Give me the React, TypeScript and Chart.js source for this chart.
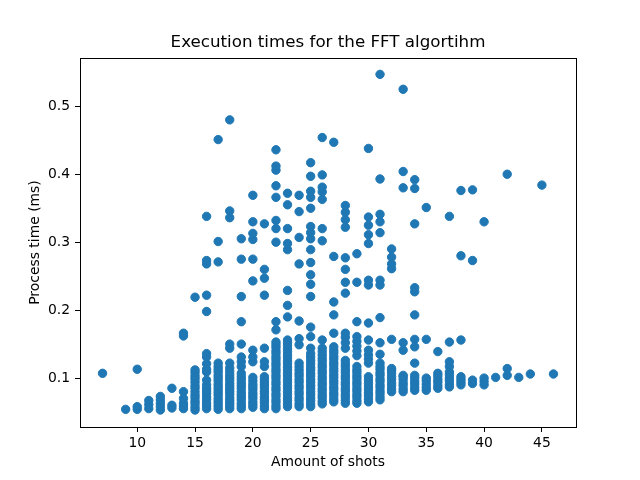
import { useEffect, useRef } from "react";
import Chart from "chart.js/auto";

// amount of shots (x) and the measured process times (ms) for each of them
const shotCounts = [
  7, 9, 10, 11, 12, 13, 14, 15, 16, 17, 18, 19, 20, 21, 22, 23, 24, 25, 26, 27,
  28, 29, 30, 31, 32, 33, 34, 35, 36, 37, 38, 39, 40, 41, 42, 43, 44, 45, 46,
];

const processTimes: number[][] = [
  [0.107],
  [0.054],
  [0.054, 0.058, 0.113],
  [0.055, 0.061, 0.067],
  [0.053, 0.058, 0.063, 0.068, 0.073],
  [0.056, 0.06, 0.085],
  [0.055, 0.059, 0.063, 0.07, 0.08, 0.162, 0.166],
  [0.053, 0.057, 0.062, 0.066, 0.071, 0.075, 0.08, 0.085, 0.089, 0.094, 0.099, 0.103, 0.108, 0.112, 0.219],
  [0.055, 0.059, 0.063, 0.068, 0.072, 0.077, 0.081, 0.085, 0.09, 0.097, 0.109, 0.113, 0.121, 0.131, 0.136, 0.198, 0.222, 0.268, 0.273, 0.338],
  [0.054, 0.058, 0.062, 0.066, 0.07, 0.075, 0.079, 0.083, 0.087, 0.091, 0.096, 0.1, 0.104, 0.109, 0.113, 0.117, 0.122, 0.271, 0.301, 0.451],
  [0.055, 0.059, 0.063, 0.067, 0.071, 0.076, 0.08, 0.084, 0.088, 0.092, 0.097, 0.101, 0.105, 0.11, 0.115, 0.122, 0.144, 0.15, 0.336, 0.346, 0.48],
  [0.055, 0.059, 0.063, 0.068, 0.072, 0.076, 0.08, 0.085, 0.089, 0.093, 0.098, 0.102, 0.107, 0.117, 0.124, 0.131, 0.15, 0.183, 0.22, 0.275, 0.305],
  [0.057, 0.061, 0.065, 0.07, 0.074, 0.078, 0.083, 0.087, 0.091, 0.096, 0.101, 0.124, 0.131, 0.141, 0.243, 0.275, 0.304, 0.313, 0.33, 0.369],
  [0.055, 0.059, 0.064, 0.068, 0.072, 0.077, 0.081, 0.086, 0.09, 0.094, 0.098, 0.102, 0.117, 0.124, 0.144, 0.222, 0.247, 0.26, 0.327],
  [0.055, 0.059, 0.064, 0.068, 0.073, 0.077, 0.082, 0.086, 0.091, 0.095, 0.1, 0.104, 0.109, 0.113, 0.118, 0.122, 0.127, 0.131, 0.136, 0.14, 0.145, 0.149, 0.153, 0.171, 0.183, 0.3, 0.32, 0.332, 0.366, 0.383, 0.406, 0.412, 0.436],
  [0.058, 0.062, 0.067, 0.071, 0.076, 0.08, 0.085, 0.089, 0.094, 0.098, 0.103, 0.107, 0.112, 0.116, 0.121, 0.125, 0.13, 0.134, 0.139, 0.143, 0.148, 0.152, 0.156, 0.19, 0.207, 0.229, 0.289, 0.298, 0.32, 0.355, 0.372],
  [0.058, 0.062, 0.067, 0.071, 0.076, 0.08, 0.085, 0.089, 0.094, 0.098, 0.103, 0.107, 0.112, 0.117, 0.122, 0.149, 0.158, 0.184, 0.268, 0.307, 0.345, 0.369],
  [0.058, 0.062, 0.067, 0.071, 0.076, 0.08, 0.085, 0.089, 0.094, 0.098, 0.103, 0.107, 0.112, 0.116, 0.121, 0.126, 0.131, 0.136, 0.144, 0.161, 0.175, 0.22, 0.238, 0.252, 0.27, 0.289, 0.305, 0.314, 0.323, 0.35, 0.366, 0.375, 0.397, 0.417],
  [0.062, 0.066, 0.071, 0.075, 0.08, 0.084, 0.089, 0.093, 0.098, 0.102, 0.107, 0.111, 0.116, 0.12, 0.125, 0.129, 0.134, 0.139, 0.144, 0.156, 0.302, 0.32, 0.363, 0.374, 0.381, 0.399, 0.454],
  [0.065, 0.069, 0.074, 0.078, 0.083, 0.087, 0.092, 0.096, 0.101, 0.105, 0.11, 0.114, 0.119, 0.123, 0.128, 0.132, 0.137, 0.141, 0.146, 0.166, 0.193, 0.212, 0.279, 0.447],
  [0.063, 0.067, 0.072, 0.076, 0.081, 0.085, 0.09, 0.094, 0.099, 0.103, 0.108, 0.112, 0.117, 0.121, 0.126, 0.144, 0.152, 0.16, 0.166, 0.225, 0.241, 0.26, 0.277, 0.322, 0.333, 0.344, 0.354],
  [0.063, 0.067, 0.072, 0.076, 0.081, 0.085, 0.09, 0.094, 0.099, 0.103, 0.108, 0.112, 0.117, 0.133, 0.14, 0.147, 0.154, 0.161, 0.183, 0.241, 0.283],
  [0.065, 0.069, 0.074, 0.078, 0.083, 0.087, 0.092, 0.097, 0.102, 0.122, 0.128, 0.134, 0.141, 0.156, 0.181, 0.237, 0.244, 0.298, 0.311, 0.325, 0.337, 0.438],
  [0.068, 0.072, 0.077, 0.081, 0.086, 0.09, 0.095, 0.099, 0.104, 0.108, 0.113, 0.117, 0.122, 0.135, 0.152, 0.189, 0.237, 0.244, 0.314, 0.33, 0.341, 0.393, 0.547],
  [0.08, 0.084, 0.089, 0.093, 0.098, 0.102, 0.107, 0.111, 0.114, 0.157, 0.261, 0.268, 0.278, 0.29],
  [0.08, 0.084, 0.089, 0.093, 0.098, 0.102, 0.104, 0.141, 0.152, 0.38, 0.404, 0.525],
  [0.082, 0.086, 0.091, 0.095, 0.1, 0.104, 0.122, 0.146, 0.157, 0.193, 0.227, 0.233, 0.327, 0.379, 0.392],
  [0.082, 0.086, 0.091, 0.096, 0.1, 0.157, 0.351],
  [0.085, 0.089, 0.094, 0.098, 0.103, 0.107, 0.139],
  [0.087, 0.091, 0.096, 0.1, 0.105, 0.109, 0.117, 0.124, 0.153, 0.338],
  [0.09, 0.094, 0.098, 0.102, 0.156, 0.28, 0.376],
  [0.092, 0.097, 0.273, 0.377],
  [0.09, 0.095, 0.1, 0.33],
  [0.101],
  [0.104, 0.114, 0.4],
  [0.101],
  [0.106],
  [0.384],
  [0.106],
];

const xTicks = [10, 15, 20, 25, 30, 35, 40, 45];
const yTicks = [0.1, 0.2, 0.3, 0.4, 0.5];

const FONT = "'DejaVu Sans', sans-serif";
const BLUE = "#1f77b4";

// black box round the plot area, drawn over the points like matplotlib's spines
const framePlugin = {
  id: "frame",
  afterDatasetsDraw(chart: any) {
    const { ctx, chartArea } = chart;
    ctx.save();
    ctx.strokeStyle = "#000";
    ctx.lineWidth = 1;
    ctx.strokeRect(
      Math.round(chartArea.left) + 0.5,
      Math.round(chartArea.top) + 0.5,
      Math.round(chartArea.right - chartArea.left),
      Math.round(chartArea.bottom - chartArea.top)
    );
    ctx.restore();
  },
};

const FftScatter = () => {
  const chartRef: any = useRef(null);

  useEffect(() => {
    const points: { x: number; y: number }[] = [];
    shotCounts.forEach((shots, i) => {
      processTimes[i].forEach((t) => points.push({ x: shots, y: t }));
    });

    const tickFont = { family: FONT, size: 13.9 };

    const theChart = new Chart(chartRef.current, {
      type: "scatter",
      data: {
        datasets: [
          {
            data: points,
            backgroundColor: BLUE,
            borderColor: BLUE,
            borderWidth: 1,
            pointRadius: 4.2,
            pointHoverRadius: 4.2,
          },
        ],
      },
      options: {
        responsive: false,
        animation: false,
        layout: { padding: { left: 0, right: 64, top: 0, bottom: 0 } },
        plugins: {
          legend: { display: false },
          tooltip: { enabled: false },
          title: {
            display: true,
            text: "Execution times for the FFT algortihm",
            color: "#000",
            font: { family: FONT, size: 16.7, weight: "normal" },
            padding: { top: 33, bottom: 5 },
            fullSize: false,
          },
        },
        scales: {
          x: {
            type: "linear",
            min: 5.05,
            max: 47.95,
            afterBuildTicks: (scale: any) => {
              scale.ticks = xTicks.map((v) => ({ value: v }));
            },
            afterFit: (scale: any) => {
              scale.height = 53;
            },
            ticks: {
              color: "#000",
              font: tickFont,
              padding: 3,
              maxRotation: 0,
              autoSkip: false,
              callback: (v: any) => String(v),
            },
            grid: { drawOnChartArea: false, tickLength: 5, color: "#000" },
            border: { display: false },
            title: {
              display: true,
              text: "Amount of shots",
              color: "#000",
              font: tickFont,
              padding: { top: 0, bottom: 9.7 },
            },
          },
          y: {
            type: "linear",
            min: 0.028,
            max: 0.571,
            afterBuildTicks: (scale: any) => {
              scale.ticks = yTicks.map((v) => ({ value: v }));
            },
            afterFit: (scale: any) => {
              scale.width = 80;
            },
            ticks: {
              color: "#000",
              font: tickFont,
              padding: 5,
              autoSkip: false,
              callback: (v: any) => Number(v).toFixed(1),
            },
            grid: { drawOnChartArea: false, tickLength: 5, color: "#000" },
            border: { display: false },
            title: {
              display: true,
              text: "Process time (ms)",
              color: "#000",
              font: tickFont,
              padding: { top: 26.7, bottom: 0 },
            },
          },
        },
      },
      plugins: [framePlugin],
    });

    return () => {
      theChart.destroy();
    };
  }, []);

  return (
    <div style={{ position: "fixed", left: 0, top: 0, width: 640, height: 480, background: "#fff" }}>
      <canvas ref={chartRef} width={640} height={480} />
    </div>
  );
};

export default function App() {
  return <FftScatter />;
}
